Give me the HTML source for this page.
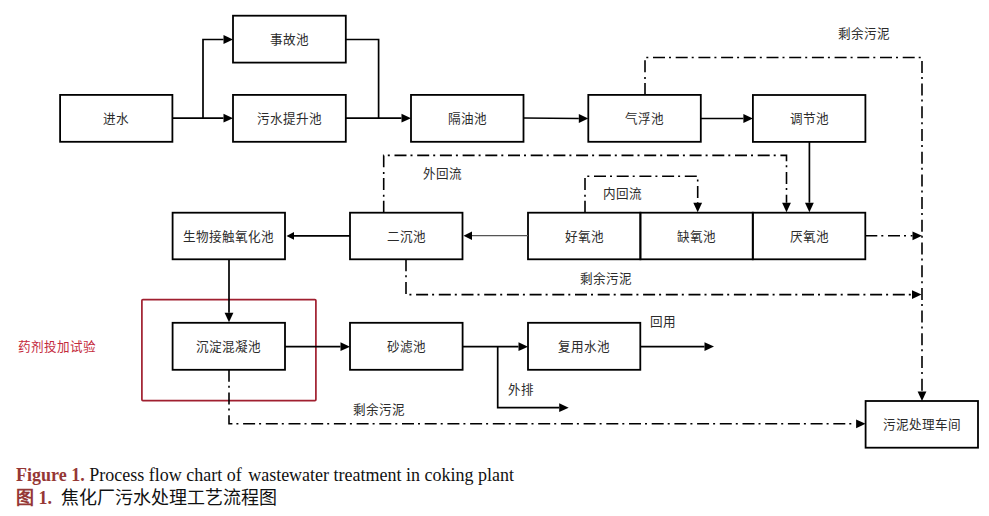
<!DOCTYPE html>
<html lang="zh-CN"><head><meta charset="utf-8">
<title>Figure 1. Process flow chart of wastewater treatment in coking plant</title>
<style>
html,body{margin:0;padding:0;background:#fff;}
body{width:989px;height:516px;overflow:hidden;position:relative;font-family:"Liberation Sans",sans-serif;}
svg{position:absolute;left:0;top:0;}
svg text{font-family:"Liberation Serif",serif;font-size:12.6px;fill:#2b2b2b;}
.cap{position:absolute;left:16px;white-space:nowrap;}
.c1{top:465px;font-family:"Liberation Serif",serif;font-size:18px;color:#111;}
.c2{top:483px;font-size:18px;color:#111;}
.red{color:#953735;font-weight:bold;font-family:"Liberation Serif",serif;}
</style></head><body>
<svg width="989" height="516" viewBox="0 0 989 516">

<g fill="none" stroke="#000" stroke-width="1.8">
<rect x="60.1" y="94.9" width="112.3" height="46.9"/>
<rect x="233" y="15.7" width="112.8" height="46.9"/>
<rect x="233" y="94.9" width="112.8" height="46.9"/>
<rect x="411" y="94.9" width="112.5" height="46.9"/>
<rect x="588.3" y="94.9" width="112.5" height="46.9"/>
<rect x="752.9" y="95" width="112.5" height="46.9"/>
<rect x="172.6" y="212.7" width="112.4" height="46.6"/>
<rect x="350" y="212.7" width="112.5" height="46.6"/>
<rect x="528" y="212.7" width="112.4" height="46.6"/>
<rect x="640.4" y="212.7" width="112.4" height="46.6"/>
<rect x="752.8" y="212.7" width="112.5" height="46.6"/>
<rect x="172.6" y="322.8" width="112.4" height="47"/>
<rect x="350" y="322.8" width="112.6" height="47"/>
<rect x="528" y="322.8" width="112.3" height="47"/>
<rect x="865.6" y="401" width="112.4" height="46.7"/>
</g>
<rect x="141.9" y="299.6" width="174" height="101" rx="1" fill="none" stroke="#a01f2f" stroke-width="1.7"/>
<g fill="none" stroke="#000" stroke-width="1.7">
<polyline points="172.40,118.20 223.50,118.20"/>
<polyline points="203.00,118.20 203.00,39.50 223.50,39.50"/>
<polyline points="345.80,39.50 378.60,39.50 378.60,118.20"/>
<polyline points="345.80,118.20 401.50,118.20"/>
<polyline points="523.50,118.00 578.80,118.50"/>
<polyline points="700.80,118.50 743.40,118.50"/>
<polyline points="809.40,141.80 809.40,202.70"/>
<polyline points="350.00,235.90 294.00,235.90"/>
<polyline points="229.00,259.30 229.00,312.70"/>
<polyline points="285.00,346.70 340.50,346.70"/>
<polyline points="462.60,346.70 518.50,346.70"/>
<polyline points="497.70,346.70 497.70,407.70 559.20,407.70"/>
<polyline points="640.30,346.60 704.50,346.60"/>
</g>
<polyline points="528,235.6 472,235.6" fill="none" stroke="#555" stroke-width="1.1"/>
<g fill="none" stroke="#000" stroke-width="1.6" stroke-dasharray="12 4 2 4.7">
<polyline points="645.00,94.90 645.00,57.50 922.00,57.50 922.00,391.50"/>
<polyline points="383.70,212.70 383.70,155.40 786.50,155.40 786.50,202.70"/>
<polyline points="585.00,212.70 585.00,176.30 697.70,176.30 697.70,202.70"/>
<polyline points="865.30,235.80 912.50,235.80"/>
<polyline points="406.00,259.30 406.00,294.60 912.00,294.60"/>
<polyline points="229.00,369.80 229.00,423.80 856.10,423.80"/>
</g>
<g fill="#000">
<polygon points="233.00,39.50 223.50,35.10 223.50,43.90"/>
<polygon points="233.00,118.20 223.50,113.80 223.50,122.60"/>
<polygon points="411.00,118.20 401.50,113.80 401.50,122.60"/>
<polygon points="588.30,118.50 578.80,114.10 578.80,122.90"/>
<polygon points="752.90,118.50 743.40,114.10 743.40,122.90"/>
<polygon points="809.40,212.20 805.00,202.70 813.80,202.70"/>
<polygon points="229.00,322.20 224.60,312.70 233.40,312.70"/>
<polygon points="350.00,346.70 340.50,342.30 340.50,351.10"/>
<polygon points="528.00,346.70 518.50,342.30 518.50,351.10"/>
<polygon points="568.70,407.70 559.20,403.30 559.20,412.10"/>
<polygon points="714.00,346.60 704.50,342.20 704.50,351.00"/>
<polygon points="922.00,401.00 917.60,391.50 926.40,391.50"/>
<polygon points="786.50,212.20 782.10,202.70 790.90,202.70"/>
<polygon points="697.70,212.20 693.30,202.70 702.10,202.70"/>
<polygon points="922.00,235.80 912.50,231.40 912.50,240.20"/>
<polygon points="921.50,294.60 912.00,290.20 912.00,299.00"/>
<polygon points="865.60,423.80 856.10,419.40 856.10,428.20"/>
<polygon points="463.50,235.70 472.00,231.40 472.00,240.00"/>
<polygon points="286.50,235.90 294.00,232.00 294.00,239.80"/>
</g>
<g text-anchor="middle">
<text x="116.25" y="122.85">进水</text>
<text x="289.40" y="43.65">事故池</text>
<text x="289.40" y="122.85">污水提升池</text>
<text x="467.25" y="122.85">隔油池</text>
<text x="644.55" y="122.85">气浮池</text>
<text x="809.15" y="122.95">调节池</text>
<text x="228.80" y="240.50">生物接触氧化池</text>
<text x="406.25" y="240.50">二沉池</text>
<text x="584.20" y="240.50">好氧池</text>
<text x="696.60" y="240.50">缺氧池</text>
<text x="809.05" y="240.50">厌氧池</text>
<text x="228.80" y="350.80">沉淀混凝池</text>
<text x="406.30" y="350.80">砂滤池</text>
<text x="584.15" y="350.80">复用水池</text>
<text x="921.80" y="428.85">污泥处理车间</text>
<text x="864.20" y="37.90">剩余污泥</text>
<text x="442.40" y="177.50">外回流</text>
<text x="622.80" y="197.80">内回流</text>
<text x="605.50" y="283.20">剩余污泥</text>
<text x="378.90" y="413.80">剩余污泥</text>
<text x="521.40" y="394.30">外排</text>
<text x="663.00" y="325.50">回用</text>
<text x="57.1" y="350.7" style="fill:#c42a3c;font-family:'Liberation Sans',sans-serif">药剂投加试验</text>
</g>
</svg>
<div class="cap c1"><span class="red">Figure 1.</span> Process flow chart of<span style="margin-left:2px"> </span>wastewater treatment in coking plant</div>
<div class="cap c2"><span class="red">图 1.</span><span style="margin-left:4px"> 焦化厂污水处理工艺流程图</span></div>
</body></html>
